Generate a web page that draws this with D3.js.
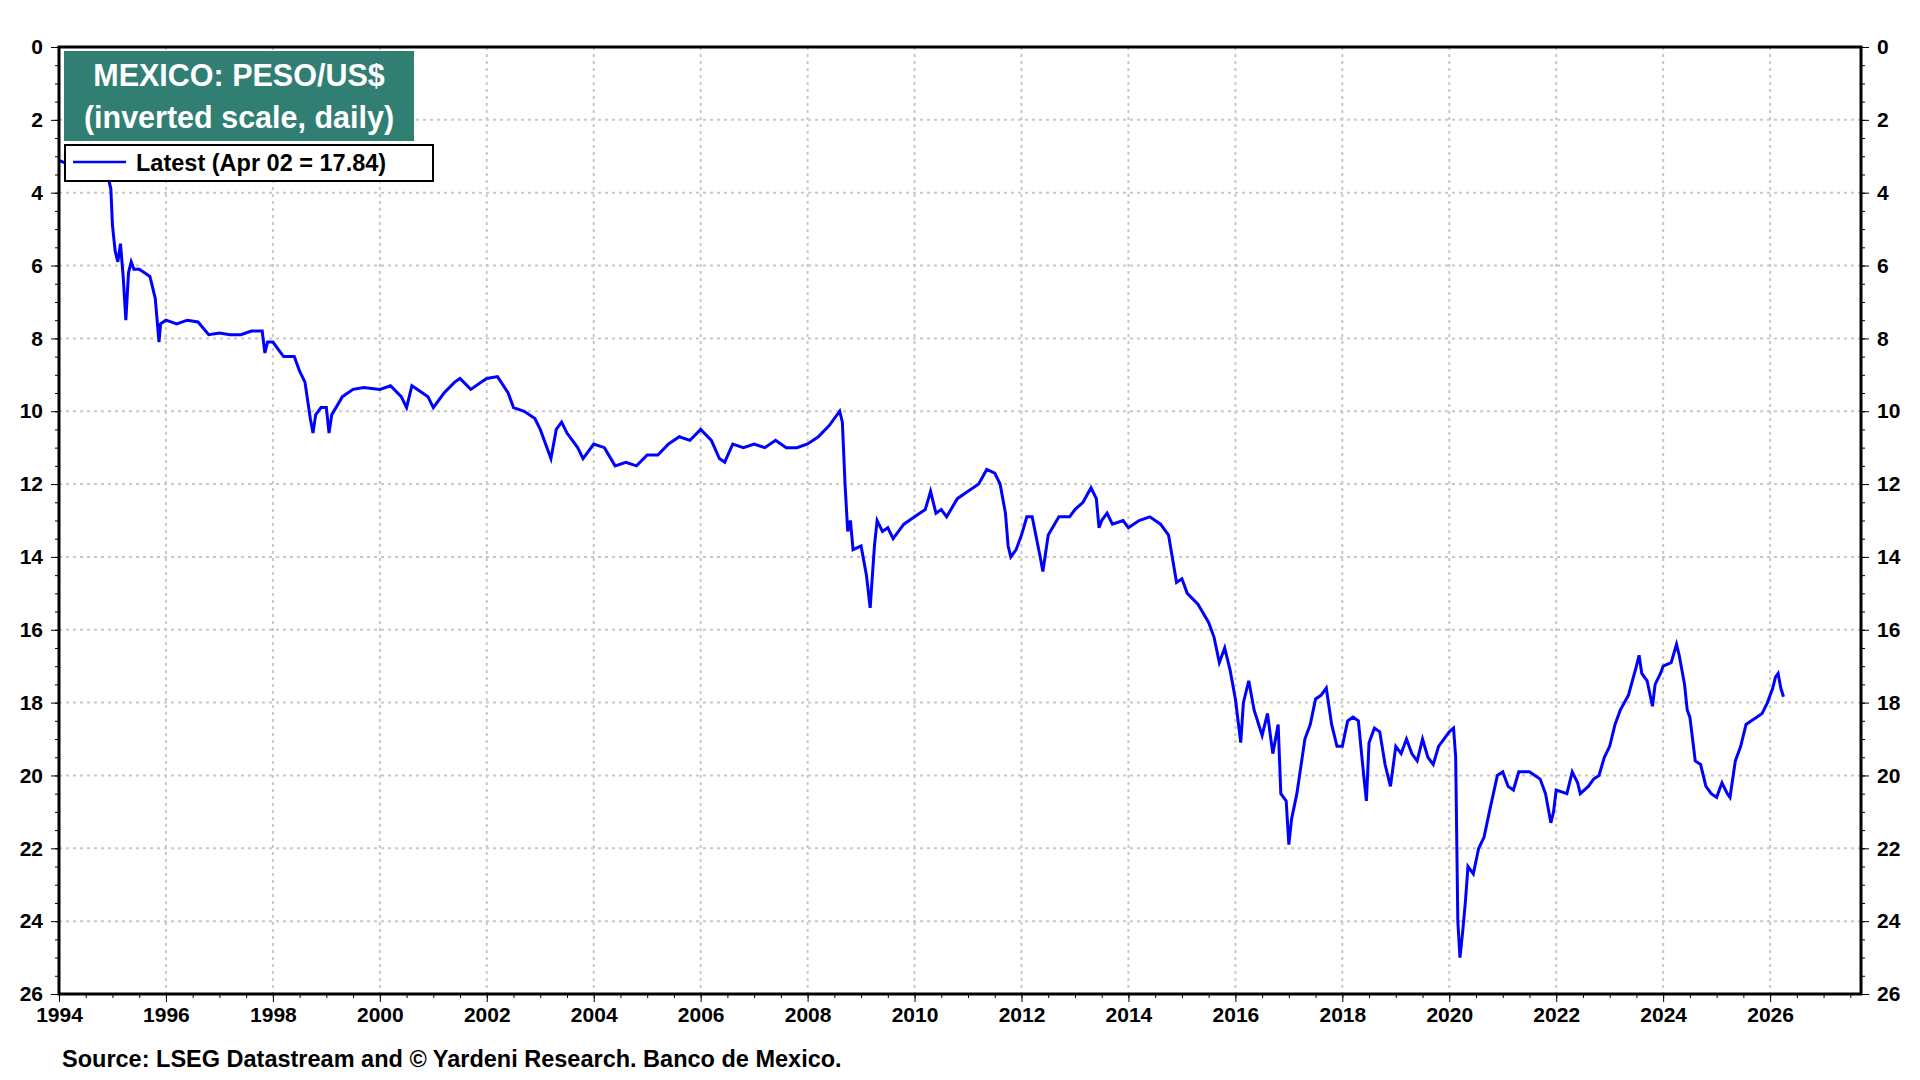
<!DOCTYPE html>
<html><head><meta charset="utf-8">
<script src="https://cdn.jsdelivr.net/npm/d3@7"></script>
<style>body{margin:0;background:#fff}svg{display:block;font-family:Arial,"Liberation Sans",sans-serif}</style>
</head><body><svg id="c" width="1920" height="1080"></svg>
<script>
const years=[1994,1994.3,1994.5,1994.9,1994.97,1995.0,1995.05,1995.1,1995.15,1995.2,1995.25,1995.3,1995.35,1995.4,1995.5,1995.6,1995.7,1995.8,1995.87,1995.9,1996.0,1996.2,1996.4,1996.6,1996.8,1997.0,1997.2,1997.4,1997.6,1997.8,1997.85,1997.9,1998.0,1998.2,1998.4,1998.5,1998.6,1998.7,1998.75,1998.8,1998.9,1999.0,1999.05,1999.1,1999.3,1999.5,1999.7,2000.0,2000.2,2000.4,2000.5,2000.6,2000.8,2000.9,2001.0,2001.2,2001.4,2001.5,2001.7,2001.9,2002.0,2002.2,2002.4,2002.5,2002.7,2002.9,2003.0,2003.1,2003.2,2003.3,2003.4,2003.5,2003.7,2003.8,2003.9,2004.0,2004.2,2004.4,2004.6,2004.8,2005.0,2005.2,2005.4,2005.6,2005.8,2006.0,2006.2,2006.35,2006.45,2006.6,2006.8,2007.0,2007.2,2007.4,2007.6,2007.8,2008.0,2008.2,2008.4,2008.6,2008.65,2008.7,2008.75,2008.8,2008.85,2009.0,2009.1,2009.17,2009.25,2009.3,2009.4,2009.5,2009.6,2009.7,2009.8,2009.9,2010.0,2010.2,2010.3,2010.4,2010.5,2010.6,2010.8,2011.0,2011.2,2011.35,2011.5,2011.6,2011.7,2011.75,2011.8,2011.9,2012.0,2012.1,2012.2,2012.35,2012.4,2012.5,2012.7,2012.9,2013.0,2013.15,2013.3,2013.4,2013.45,2013.5,2013.6,2013.7,2013.9,2014.0,2014.2,2014.4,2014.6,2014.75,2014.9,2015.0,2015.1,2015.3,2015.5,2015.6,2015.7,2015.8,2015.9,2016.0,2016.1,2016.15,2016.25,2016.35,2016.5,2016.6,2016.7,2016.8,2016.85,2016.95,2017.0,2017.05,2017.15,2017.3,2017.4,2017.5,2017.6,2017.7,2017.8,2017.9,2018.0,2018.1,2018.2,2018.3,2018.4,2018.45,2018.5,2018.6,2018.7,2018.8,2018.9,2019.0,2019.1,2019.2,2019.3,2019.4,2019.5,2019.6,2019.7,2019.8,2019.9,2020.0,2020.08,2020.12,2020.16,2020.2,2020.25,2020.3,2020.35,2020.45,2020.55,2020.65,2020.75,2020.9,2021.0,2021.1,2021.2,2021.3,2021.5,2021.6,2021.7,2021.8,2021.9,2021.95,2022.0,2022.2,2022.3,2022.4,2022.45,2022.6,2022.7,2022.8,2022.9,2023.0,2023.1,2023.2,2023.35,2023.5,2023.55,2023.6,2023.7,2023.8,2023.85,2023.95,2024.0,2024.15,2024.25,2024.3,2024.4,2024.45,2024.5,2024.55,2024.6,2024.7,2024.8,2024.9,2025.0,2025.1,2025.2,2025.25,2025.35,2025.45,2025.55,2025.65,2025.75,2025.85,2025.95,2026.05,2026.1,2026.15,2026.2,2026.25];
const pesoPerUsd=[3.11,3.3,3.4,3.45,3.9,4.9,5.6,5.9,5.4,6.3,7.5,6.2,5.9,6.1,6.1,6.2,6.3,6.9,8.1,7.6,7.5,7.6,7.5,7.55,7.9,7.85,7.9,7.9,7.8,7.8,8.4,8.1,8.1,8.5,8.5,8.9,9.2,10.2,10.6,10.1,9.9,9.9,10.6,10.1,9.6,9.4,9.35,9.4,9.3,9.6,9.9,9.3,9.5,9.6,9.9,9.5,9.2,9.1,9.4,9.2,9.1,9.05,9.5,9.9,10.0,10.2,10.5,10.9,11.3,10.5,10.3,10.6,11.0,11.3,11.1,10.9,11.0,11.5,11.4,11.5,11.2,11.2,10.9,10.7,10.8,10.5,10.8,11.3,11.4,10.9,11.0,10.9,11.0,10.8,11.0,11.0,10.9,10.7,10.4,10.0,10.3,12.0,13.3,13.0,13.8,13.7,14.5,15.4,13.7,13.0,13.3,13.2,13.5,13.3,13.1,13.0,12.9,12.7,12.2,12.8,12.7,12.9,12.4,12.2,12.0,11.6,11.7,12.0,12.8,13.7,14.0,13.8,13.4,12.9,12.9,14.0,14.4,13.4,12.9,12.9,12.7,12.5,12.1,12.4,13.2,13.0,12.8,13.1,13.0,13.2,13.0,12.9,13.1,13.4,14.7,14.6,15.0,15.3,15.8,16.2,16.9,16.5,17.1,17.9,19.1,18.0,17.4,18.2,18.9,18.3,19.4,18.6,20.5,20.7,21.9,21.2,20.5,19.0,18.6,17.9,17.8,17.6,18.6,19.2,19.2,18.5,18.4,18.5,20.0,20.7,19.1,18.7,18.8,19.7,20.3,19.2,19.4,19.0,19.4,19.6,19.0,19.5,19.7,19.2,19.0,18.8,18.7,19.5,24.0,25.0,24.3,23.5,22.5,22.7,22.0,21.7,21.0,20.0,19.9,20.3,20.4,19.9,19.9,20.0,20.1,20.5,21.3,21.0,20.4,20.5,19.9,20.2,20.5,20.3,20.1,20.0,19.5,19.2,18.6,18.2,17.8,17.0,16.7,17.2,17.4,18.1,17.5,17.2,17.0,16.9,16.4,16.7,17.5,18.2,18.4,19.0,19.6,19.7,20.3,20.5,20.6,20.2,20.5,20.6,19.6,19.2,18.6,18.5,18.4,18.3,18.0,17.6,17.3,17.2,17.6,17.84];
const xTicks=[1994,1996,1998,2000,2002,2004,2006,2008,2010,2012,2014,2016,2018,2020,2022,2024,2026];
const yTicks=[0,2,4,6,8,10,12,14,16,18,20,22,24,26];

const svg=d3.select("#c");
const L=59,R=1861,T=47,B=994;
const x=d3.scaleLinear().domain([1994,2027.7]).range([L,R]);
const y=d3.scaleLinear().domain([0,26]).range([T,B]);
const data=years.map((t,i)=>[t,pesoPerUsd[i]]);

const g=svg.append("g");
g.selectAll(".vg").data(xTicks.slice(1)).join("line").attr("x1",d=>x(d)).attr("x2",d=>x(d)).attr("y1",T).attr("y2",B)
 .attr("stroke","#c8c8c8").attr("stroke-width",2).attr("stroke-dasharray","3,4");
g.selectAll(".hg").data(yTicks.slice(1,-1)).join("line").attr("y1",d=>y(d)).attr("y2",d=>y(d)).attr("x1",L).attr("x2",R)
 .attr("stroke","#c8c8c8").attr("stroke-width",2).attr("stroke-dasharray","3,4");

svg.append("path").datum(data).attr("fill","none").attr("stroke","#0000ff").attr("stroke-width",3)
 .attr("d",d3.line().x(d=>x(d[0])).y(d=>y(d[1])));

const minor=d3.range(0,26.01,0.5);
function yaxis(gen,tx){
  const a=svg.append("g").attr("transform",`translate(${tx},0)`).call(gen(y).tickValues(yTicks).tickSize(8).tickPadding(8));
  a.selectAll("text").attr("font-size",21).attr("font-weight","bold").attr("fill","#000");
  a.select(".domain").remove();
  const m=svg.append("g").attr("transform",`translate(${tx},0)`).call(gen(y).tickValues(minor).tickSize(4).tickFormat(""));
  m.select(".domain").remove();
}
yaxis(d3.axisLeft,L); yaxis(d3.axisRight,R);
const xa=svg.append("g").attr("transform",`translate(0,${B})`).call(d3.axisBottom(x).tickValues(xTicks).tickFormat(d3.format("d")).tickSize(8).tickPadding(5));
xa.selectAll("text").attr("font-size",21).attr("font-weight","bold");
xa.select(".domain").remove();
svg.append("g").attr("transform",`translate(0,${B})`).call(d3.axisBottom(x).tickValues(d3.range(1994,2027.7,0.5)).tickSize(4).tickFormat("")).select(".domain").remove();

svg.append("rect").attr("x",L).attr("y",T).attr("width",R-L).attr("height",B-T).attr("fill","none").attr("stroke","#000").attr("stroke-width",3);

svg.append("rect").attr("x",64).attr("y",51).attr("width",350).attr("height",90).attr("fill","#317f73");
svg.append("text").attr("x",239).attr("y",86).attr("text-anchor","middle").attr("fill","#fff").attr("font-size",30.5).attr("font-weight","bold").text("MEXICO: PESO/US$");
svg.append("text").attr("x",239).attr("y",128).attr("text-anchor","middle").attr("fill","#fff").attr("font-size",30.5).attr("font-weight","bold").text("(inverted scale, daily)");
svg.append("rect").attr("x",65).attr("y",145).attr("width",368).attr("height",36).attr("fill","#fff").attr("stroke","#000").attr("stroke-width",2);
svg.append("line").attr("x1",73).attr("x2",126).attr("y1",162).attr("y2",162).attr("stroke","#0000ff").attr("stroke-width",2.5);
svg.append("text").attr("x",136).attr("y",171).attr("font-size",23.5).attr("font-weight","bold").text("Latest (Apr 02 = 17.84)");
svg.append("text").attr("x",62).attr("y",1067).attr("font-size",23.5).attr("font-weight","bold").text("Source: LSEG Datastream and © Yardeni Research. Banco de Mexico.");
</script></body></html>
